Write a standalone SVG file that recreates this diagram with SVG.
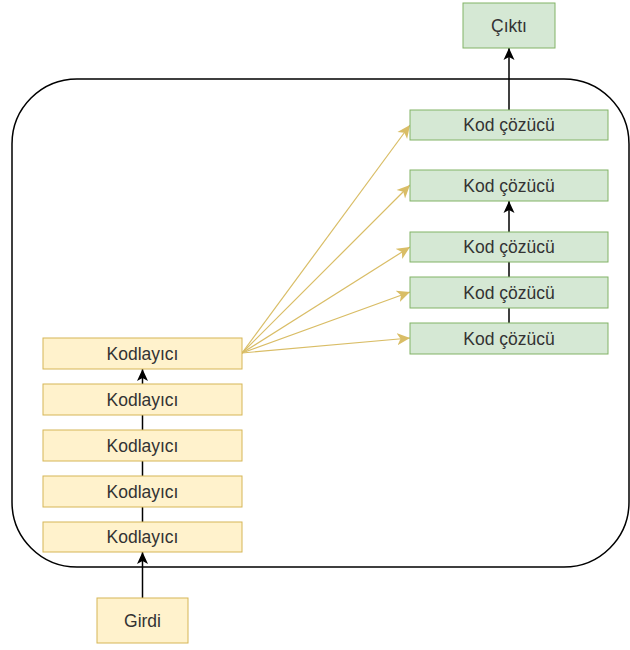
<svg xmlns="http://www.w3.org/2000/svg" width="630" height="650" viewBox="0 0 630 650">
<defs>
<style>
.enc rect{fill:#fff2cc;stroke:#d6b656;stroke-width:1}
.dec rect{fill:#d5e8d4;stroke:#82b366;stroke-width:1}
text{font-family:"Liberation Sans",Arial,sans-serif;font-size:17.5px;fill:#333333;text-anchor:middle;dominant-baseline:central}
.blk{stroke:#000;stroke-width:1.5;fill:none}
.yel{stroke:#d9bd66;stroke-width:1.2;fill:none}
</style>
<marker id="ab" refX="12" refY="6" markerWidth="14" markerHeight="14" markerUnits="userSpaceOnUse" orient="auto">
<path d="M0,0.5 L12,6 L0,11.5 L3,6 Z" fill="#000"/>
</marker>
<marker id="ay" refX="13" refY="6.5" markerWidth="15" markerHeight="15" markerUnits="userSpaceOnUse" orient="auto">
<path d="M0,0.5 L13,6.5 L0,12.5 L3.5,6.5 Z" fill="#d9bd66"/>
</marker>
</defs>
<rect id="container" x="12" y="79" width="617" height="488" rx="65" ry="65" fill="#fff" stroke="#000" stroke-width="1.5"/>
<g id="connectors">
<line class="blk" x1="142.5" y1="598" x2="142.5" y2="552" marker-end="url(#ab)"/>
<line class="blk" x1="142.5" y1="522" x2="142.5" y2="369" marker-end="url(#ab)"/>
<line class="blk" x1="509" y1="323" x2="509" y2="201" marker-end="url(#ab)"/>
<line class="blk" x1="509" y1="110" x2="509" y2="48" marker-end="url(#ab)"/>
<line class="yel" x1="242" y1="353" x2="410" y2="125" marker-end="url(#ay)"/>
<line class="yel" x1="242" y1="353" x2="410" y2="185" marker-end="url(#ay)"/>
<line class="yel" x1="242" y1="353" x2="410" y2="247" marker-end="url(#ay)"/>
<line class="yel" x1="242" y1="353" x2="410" y2="292" marker-end="url(#ay)"/>
<line class="yel" x1="242" y1="353" x2="410" y2="338" marker-end="url(#ay)"/>
</g>
<g id="girdi" class="enc"><rect x="97" y="598" width="91" height="45"/><text x="142.5" y="620.5">Girdi</text></g>
<g id="enc5" class="enc"><rect x="43" y="522" width="199" height="30"/><text x="142.5" y="537">Kodlayıcı</text></g>
<g id="enc4" class="enc"><rect x="43" y="476" width="199" height="31"/><text x="142.5" y="491.5">Kodlayıcı</text></g>
<g id="enc3" class="enc"><rect x="43" y="430" width="199" height="31"/><text x="142.5" y="445.5">Kodlayıcı</text></g>
<g id="enc2" class="enc"><rect x="43" y="384" width="199" height="31"/><text x="142.5" y="399.5">Kodlayıcı</text></g>
<g id="enc1" class="enc"><rect x="43" y="338" width="199" height="31"/><text x="142.5" y="353.5">Kodlayıcı</text></g>
<g id="dec5" class="dec"><rect x="410" y="323" width="198" height="31"/><text x="509" y="338.5">Kod çözücü</text></g>
<g id="dec4" class="dec"><rect x="410" y="277" width="198" height="31"/><text x="509" y="292.5">Kod çözücü</text></g>
<g id="dec3" class="dec"><rect x="410" y="232" width="198" height="30"/><text x="509" y="247">Kod çözücü</text></g>
<g id="dec2" class="dec"><rect x="410" y="170" width="198" height="31"/><text x="509" y="185.5">Kod çözücü</text></g>
<g id="dec1" class="dec"><rect x="410" y="110" width="198" height="30"/><text x="509" y="125">Kod çözücü</text></g>
<g id="cikti" class="dec"><rect x="463" y="3" width="92" height="45"/><text x="509" y="25.5">Çıktı</text></g>
</svg>
